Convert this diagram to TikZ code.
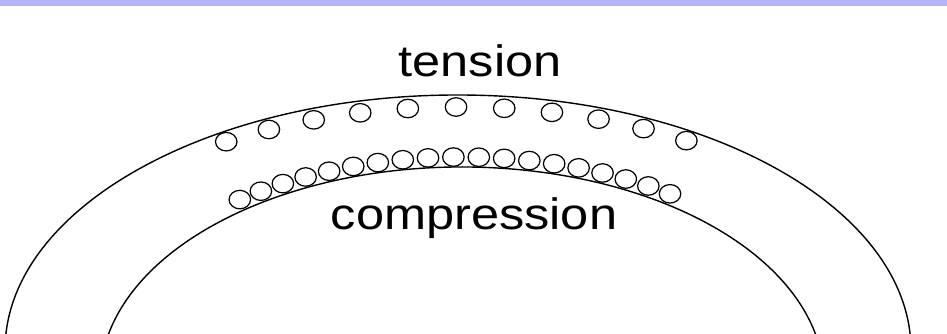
\documentclass[tikz,border=0pt]{standalone}
\usepackage{fontspec}
\setmainfont{Liberation Sans}
\usepackage{tikz}
\definecolor{bandblue}{RGB}{180,180,248}
\tikzset{
  arch/.style={line width=0.8pt},
  bead/.style={line width=0.7pt},
  beam label/.style={anchor=base, font=\fontsize{25}{30}\selectfont},
}

\begin{document}
\begin{tikzpicture}
    \useasboundingbox (0, 0) rectangle (18.94, 6.68);
    \fill [bandblue] (0, 6.56) rectangle (18.94, 6.68);
    % outer and inner face of the bent beam
    \draw [arch] (9.16, -0.32) ++(177:9.06 and 5.10) arc [start angle=177, end angle=3, x radius=9.06, y radius=5.10];
    \draw [arch] (9.24, -0.92) ++(169:7.24 and 4.26) arc [start angle=169, end angle=11, x radius=7.24, y radius=4.26];
    % spread out under tension
    \foreach \i in {0,...,10}
        \draw [bead, shift={(9.16, -0.32)}] ({121 - 6.15*\i}:9 and 4.86) ellipse [x radius=0.215, y radius=0.185];
    % packed together under compression
    \foreach \i in {0,...,18}
        \draw [bead, shift={(9.24, -0.92)}] ({126 - 3.855*\i}:7.56 and 4.46) ellipse [x radius=0.215, y radius=0.185];
    \node [beam label] (tension) at (9.6, 5.14) {\scalebox{1.15}[1]{tension}};
    \node [beam label] (compression) at (9.48, 2.08) {\scalebox{1.15}[1]{compression}};
\end{tikzpicture}
\end{document}
